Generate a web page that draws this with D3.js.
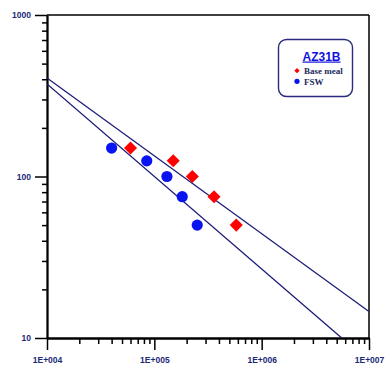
<!DOCTYPE html>
<html>
<head>
<meta charset="utf-8">
<script src="https://cdn.jsdelivr.net/npm/d3@7"></script>
<style>
  html, body { margin: 0; padding: 0; background: #fff; }
  svg { display: block; }
</style>
</head>
<body>
<svg id="chart" width="385" height="365"></svg>
<script>
// ---- data ----
const baseMetalX = [60000, 150000, 226000, 360000, 580000];
const baseMetalY = [150, 125, 100, 75, 50];
const fswX = [40000, 85000, 131000, 182000, 251000];
const fswY = [150, 125, 100, 75, 50];
// fitted lines (endpoints)
const baseFitX = [1e4, 1e7];
const baseFitY = [407, 14.6];
const fswFitX = [1e4, 5.57e6];
const fswFitY = [374, 10];
const xTickValues = [1e4, 1e5, 1e6, 1e7];
const xTickLabels = ["1E+004", "1E+005", "1E+006", "1E+007"];
const yTickValues = [10, 100, 1000];
const yTickLabels = ["10", "100", "1000"];
const legendTitle = "AZ31B";
const seriesNames = ["Base meal", "FSW"];

// ---- layout ----
const L = 47, R = 369, T = 15, B = 338;
const svg = d3.select("#chart");
const x = d3.scaleLog().domain([1e4, 1e7]).range([L, R]);
const y = d3.scaleLog().domain([10, 1000]).range([B, T]);

const minorX = [], minorY = [];
for (let e = 4; e < 7; e++) for (let m = 2; m <= 9; m++) minorX.push(m * Math.pow(10, e));
for (let e = 1; e < 3; e++) for (let m = 2; m <= 9; m++) minorY.push(m * Math.pow(10, e));

const labelColor = "#1b2a78";
const font = "Arial, 'Liberation Sans', sans-serif";

// clip
svg.append("defs").append("clipPath").attr("id", "clip")
  .append("rect").attr("x", L).attr("y", T).attr("width", R - L).attr("height", B - T);

// frame top/right
svg.append("line").attr("x1", L).attr("x2", R).attr("y1", T).attr("y2", T)
  .attr("stroke", "#000").attr("stroke-width", 1.5);
svg.append("line").attr("x1", R).attr("x2", R).attr("y1", T).attr("y2", B)
  .attr("stroke", "#000").attr("stroke-width", 1.5);

// x axis minor
const gxm = svg.append("g").attr("transform", `translate(0,${B})`)
  .call(d3.axisBottom(x).tickValues(minorX).tickSize(6).tickSizeOuter(0).tickFormat(""));
// x axis major
const gx = svg.append("g").attr("transform", `translate(0,${B})`)
  .call(d3.axisBottom(x).tickValues(xTickValues).tickSize(12).tickSizeOuter(0).tickPadding(7)
    .tickFormat((d, i) => xTickLabels[i]));
// y axis minor
const gym = svg.append("g").attr("transform", `translate(${L},0)`)
  .call(d3.axisLeft(y).tickValues(minorY).tickSize(5).tickSizeOuter(0).tickFormat(""));
// y axis major
const gy = svg.append("g").attr("transform", `translate(${L},0)`)
  .call(d3.axisLeft(y).tickValues(yTickValues).tickSize(12).tickSizeOuter(0).tickPadding(4)
    .tickFormat((d, i) => yTickLabels[i]));

[gxm, gx, gym, gy].forEach(g => {
  g.selectAll("path.domain").attr("stroke", "#000").attr("stroke-width", 1.8);
  g.selectAll(".tick line").attr("stroke", "#000").attr("stroke-width", 1.5);
  g.selectAll("text").attr("fill", labelColor).attr("font-family", font)
    .attr("font-weight", "bold").attr("font-size", "8.5px");
});

// fit lines
const line = d3.line().x(d => x(d[0])).y(d => y(d[1]));
const plot = svg.append("g").attr("clip-path", "url(#clip)");
plot.append("path").datum(baseFitX.map((v, i) => [v, baseFitY[i]]))
  .attr("d", line).attr("fill", "none").attr("stroke", "#1a1a78").attr("stroke-width", 1.3);
plot.append("path").datum(fswFitX.map((v, i) => [v, fswFitY[i]]))
  .attr("d", line).attr("fill", "none").attr("stroke", "#1a1a78").attr("stroke-width", 1.3);

// points
const diamond = d3.symbol().type(d3.symbolSquare).size(85);
svg.append("g").selectAll("path").data(baseMetalX.map((v, i) => [v, baseMetalY[i]]))
  .join("path").attr("d", diamond)
  .attr("transform", d => `translate(${x(d[0])},${y(d[1])}) rotate(45)`)
  .attr("fill", "#ff0000");
svg.append("g").selectAll("circle").data(fswX.map((v, i) => [v, fswY[i]]))
  .join("circle").attr("cx", d => x(d[0])).attr("cy", d => y(d[1])).attr("r", 5.6)
  .attr("fill", "#0a14f0");

// legend
const lg = svg.append("g");
lg.append("rect").attr("x", 278.5).attr("y", 39.5).attr("width", 74).attr("height", 57)
  .attr("rx", 8).attr("ry", 8).attr("fill", "#fff").attr("stroke", "#2a2a80").attr("stroke-width", 1.4);
lg.append("text").attr("x", 321.5).attr("y", 60.5).attr("text-anchor", "middle")
  .attr("font-family", font).attr("font-weight", "bold").attr("font-size", "12px")
  .attr("fill", "#1010e0").attr("text-decoration", "underline").text(legendTitle);
lg.append("path").attr("d", d3.symbol().type(d3.symbolSquare).size(14)())
  .attr("transform", "translate(297,70.7) rotate(45)").attr("fill", "#ff0000");
lg.append("circle").attr("cx", 297).attr("cy", 81.3).attr("r", 2.6).attr("fill", "#0a14f0");
lg.selectAll("text.s").data(seriesNames).join("text").attr("class", "s")
  .attr("x", 304).attr("y", (d, i) => 74 + i * 10.5)
  .attr("font-family", "'Liberation Serif', 'Times New Roman', serif").attr("font-weight", "bold")
  .attr("font-size", "9px").attr("fill", "#1b2a60").text(d => d);
</script>
</body>
</html>
